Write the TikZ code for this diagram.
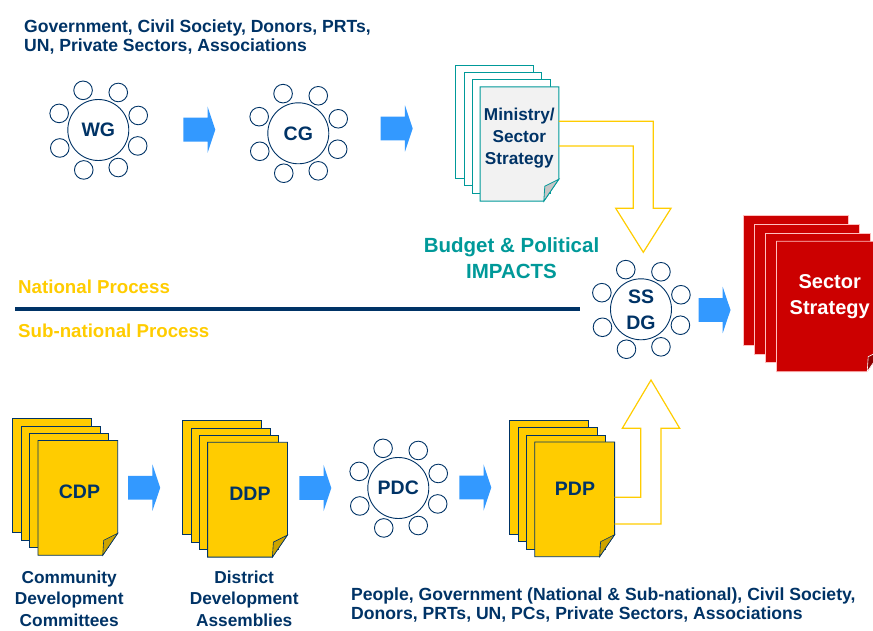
\documentclass[tikz,border=0pt]{standalone}
\usepackage{fontspec}
\setmainfont{Liberation Sans}
\usetikzlibrary{shapes.arrows}

\definecolor{navy}{RGB}{0,51,102}
\definecolor{skyblue}{RGB}{51,153,255}
\definecolor{gold}{RGB}{255,204,0}
\definecolor{darkgold}{RGB}{204,163,0}
\definecolor{tealgreen}{RGB}{0,153,153}
\definecolor{crimson}{RGB}{204,0,0}
\definecolor{paper}{RGB}{242,242,242}

% stack of four sheets, the front one with a folded corner
\newcommand{\docstack}[6]{%
  \foreach \k in {3,2,1}
    \node[#4 sheet] (#1-\k) at ([shift={(\k*#5,\k*#6)}]#2,#3) {};
  \node[#4 sheet,draw=none,fill=none] (#1) at (#2,#3) {};
  \filldraw[#4 sheet,#4 front] (#1.north west) -- (#1.north east) -- ([yshift=22pt]#1.south east)
    -- ([xshift=-15pt]#1.south east) -- (#1.south west) -- cycle;
  \filldraw[#4 flap] ([yshift=22pt]#1.south east) -- ([shift={(-14pt,15pt)}]#1.south east)
    -- ([xshift=-15pt]#1.south east) -- cycle;
}

\begin{document}
\begin{tikzpicture}[x=1pt,y=-1pt,
  meeting/.style={circle,draw=navy,line width=0.9pt,fill=white,minimum size=61pt,inner sep=0pt,
    text=navy,align=center,font=\bfseries\fontsize{19.5}{26}\selectfont},
  seat/.style={draw=navy,line width=0.9pt},
  push/.style={single arrow,fill=skyblue,minimum height=32pt,inner xsep=0pt,inner ysep=11.75pt,
    single arrow head extend=11.25pt,single arrow tip angle=143},
  hollow/.style={draw=gold,line width=1.2pt},
  yellow sheet/.style={draw=navy,line width=0.8pt,fill=gold,minimum width=79pt,minimum height=114pt,inner sep=0pt},
  yellow front/.style={},
  yellow flap/.style={draw=navy,line width=0.6pt,fill=darkgold},
  ministry sheet/.style={draw=tealgreen,line width=1pt,fill=white,minimum width=77.6pt,minimum height=113.4pt,inner sep=0pt},
  ministry front/.style={fill=paper},
  ministry flap/.style={draw=tealgreen,line width=0.8pt,fill=gray!45},
  red sheet/.style={draw=red!25,line width=0.8pt,fill=crimson,minimum width=105pt,minimum height=129.6pt,inner sep=0pt},
  red front/.style={},
  red flap/.style={draw=white,line width=0.6pt,fill=crimson!70!black}]
\tikzstyle{para}=[inner sep=0pt,text=navy,align=left,font=\bfseries\fontsize{17.6}{18.6}\selectfont]
\tikzstyle{caption}=[inner sep=0pt,text=navy,align=center,font=\bfseries\fontsize{17.3}{21.6}\selectfont]
\tikzstyle{doclabel}=[inner sep=0pt,text=navy,align=center,font=\bfseries\fontsize{19.5}{22}\selectfont]
\tikzstyle{process}=[inner sep=0pt,text=gold,font=\bfseries\fontsize{18.7}{22}\selectfont]
\useasboundingbox (0,0) rectangle (873,631);
\clip (0,0) rectangle (873,631);

\node[para,anchor=north west] (actors) at (24,20) {Government, Civil Society, Donors, PRTs,\\UN, Private Sectors, Associations};
\node[process,anchor=base west] (nat) at (18,293.5) {National Process};
\node[process,anchor=base west] (subnat) at (18,337) {Sub-national Process};
\draw[navy,line width=4.5pt] (15,309) -- (580,309);
\node[inner sep=0pt,text=tealgreen,align=center,font=\bfseries\fontsize{20.5}{26}\selectfont] (impact) at (511.5,257.9) {Budget \& Political\\IMPACTS};

% groups round a table
\foreach \n/\x/\y/\lbl in {wg/98.3/130/WG, cg/298.3/133.3/CG, ssdg/641/309.3/{SS\\DG}, pdc/398.3/488/PDC}{
  \node[meeting] (\n) at (\x,\y) {\lbl};
  \foreach \a in {20,62,111,157,205,250,298,338}
    \draw[seat] (\n.center) ++(\a:42.5pt) circle[radius=9.3pt];
}

\node[push] (a1) at (197.3,129.7) {};
\node[push] (a2) at (394.7,128.5) {};
\node[push] (a3) at (712.5,310) {};
\node[push] (a4) at (142.2,487.7) {};
\node[push] (a5) at (313.3,488) {};
\node[push] (a6) at (473.3,487.5) {};

% plans and strategies
\docstack{ms}{519.5}{144}{ministry}{-8.3}{-7.4}
\docstack{cdp}{77.8}{497.9}{yellow}{-8.7}{-7.5}
\docstack{ddp}{247.5}{499.7}{yellow}{-8.5}{-7.3}
\docstack{pdp}{574.7}{499.3}{yellow}{-8.6}{-7.3}
\docstack{sect}{829.3}{306.5}{red}{-11.3}{-8.6}

\node[doclabel,font=\bfseries\fontsize{17.2}{22}\selectfont] (ms-t) at (519.3,137.6) {Ministry/\\Sector\\Strategy};
\node[doclabel] (cdp-t) at (79.5,492.2) {CDP};
\node[doclabel] (ddp-t) at (250,493.7) {DDP};
\node[doclabel] (pdp-t) at (575,489.2) {PDP};
\node[doclabel,text=white,font=\bfseries\fontsize{20}{26.7}\selectfont] (sect-t) at (829.7,296.6) {Sector\\Strategy};

% wide arrows into SSDG
\draw[hollow] (ms.east |- 0,121.3) -- (653.3,121.3) -- (653.3,208.3) -- (671,208.3) -- (643.3,252.3)
  -- (615.7,208.3) -- (633.3,208.3) -- (633.3,146) -- (ms.east |- 0,146);
\draw[hollow] (pdp.east |- 0,497.3) -- (640.7,497.3) -- (640.7,428.3) -- (622.3,428.3) -- (651,380)
  -- (679.7,428.3) -- (661,428.3) -- (661,524) -- (pdp.east |- 0,524);

\node[caption,anchor=north] (cdc) at (69.2,570.5) {Community\\Development\\Committees};
\node[caption,anchor=north] (dda) at (244.2,570.5) {District\\Development\\Assemblies};
\node[para,anchor=north west] (people) at (351,588) {People, Government (National \& Sub-national), Civil Society,\\Donors, PRTs, UN, PCs, Private Sectors, Associations};
\end{tikzpicture}
\end{document}
